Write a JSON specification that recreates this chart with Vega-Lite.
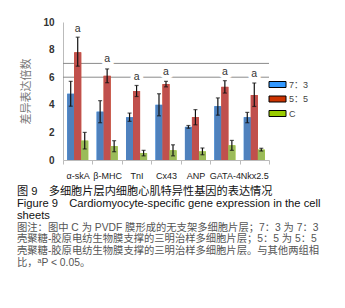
{
  "$schema": "https://vega.github.io/schema/vega-lite/v6.json",
  "autosize": "none",
  "width": 206,
  "height": 138,
  "padding": {"left": 63, "top": 22, "right": 76, "bottom": 148},
  "background": "white",
  "config": {
    "view": {"stroke": null},
    "font": "Liberation Sans, Noto Sans CJK SC",
    "axis": {"labelFont": "Liberation Sans", "titleFont": "Noto Sans CJK SC"},
    "axisY": {"labelOverlap": false}
  },
  "title": {
    "text": ["图 9　多细胞片层内细胞心肌特异性基因的表达情况", "Figure 9　Cardiomyocyte-specific gene expression in the cell", "sheets"],
    "subtitle": ["图注：图中 C 为 PVDF 膜形成的无支架多细胞片层；7：3 为 7：3", "壳聚糖-胶原电纺生物膜支撑的三明治样多细胞片层；5：5 为 5：5", "壳聚糖-胶原电纺生物膜支撑的三明治样多细胞片层。与其他两组相", "比，ᵃP < 0.05。"],
    "orient": "bottom",
    "anchor": "start",
    "frame": "group",
    "dx": -46,
    "offset": 6,
    "font": "Liberation Sans, Noto Sans CJK SC",
    "fontSize": 11.2,
    "fontWeight": "normal",
    "color": "#111",
    "lineHeight": 12,
    "subtitleFont": "Liberation Sans, Noto Sans CJK SC",
    "subtitleFontSize": 10.3,
    "subtitleColor": "#555",
    "subtitleLineHeight": 11.7,
    "subtitlePadding": 1.5
  },
  "data": {
    "values": [
      {"gene": "α-skA", "group": "7：3", "v": 4.8, "lo": 3.9, "hi": 5.7},
      {"gene": "α-skA", "group": "5：5", "v": 7.8, "lo": 6.8, "hi": 8.9},
      {"gene": "α-skA", "group": "C", "v": 1.4, "lo": 0.8, "hi": 2.0},
      {"gene": "β-MHC", "group": "7：3", "v": 3.5, "lo": 2.7, "hi": 4.3},
      {"gene": "β-MHC", "group": "5：5", "v": 6.1, "lo": 5.6, "hi": 6.6},
      {"gene": "β-MHC", "group": "C", "v": 1.0, "lo": 0.6, "hi": 1.4},
      {"gene": "TnI", "group": "7：3", "v": 3.1, "lo": 2.8, "hi": 3.4},
      {"gene": "TnI", "group": "5：5", "v": 5.0, "lo": 4.6, "hi": 5.4},
      {"gene": "TnI", "group": "C", "v": 0.5, "lo": 0.3, "hi": 0.7},
      {"gene": "Cx43", "group": "7：3", "v": 4.0, "lo": 3.2, "hi": 4.8},
      {"gene": "Cx43", "group": "5：5", "v": 5.5, "lo": 5.3, "hi": 5.7},
      {"gene": "Cx43", "group": "C", "v": 0.7, "lo": 0.3, "hi": 1.1},
      {"gene": "ANP", "group": "7：3", "v": 2.4, "lo": 2.3, "hi": 2.5},
      {"gene": "ANP", "group": "5：5", "v": 3.1, "lo": 2.55, "hi": 3.65},
      {"gene": "ANP", "group": "C", "v": 0.62, "lo": 0.38, "hi": 0.87},
      {"gene": "GATA-4", "group": "7：3", "v": 3.9, "lo": 3.25, "hi": 4.5},
      {"gene": "GATA-4", "group": "5：5", "v": 5.3, "lo": 4.85, "hi": 5.75},
      {"gene": "GATA-4", "group": "C", "v": 1.06, "lo": 0.7, "hi": 1.42},
      {"gene": "Nkx2.5", "group": "7：3", "v": 3.1, "lo": 2.7, "hi": 3.45},
      {"gene": "Nkx2.5", "group": "5：5", "v": 4.7, "lo": 3.88, "hi": 5.58},
      {"gene": "Nkx2.5", "group": "C", "v": 0.75, "lo": 0.65, "hi": 0.85}
    ]
  },
  "encoding": {
    "x": {
      "field": "gene", "type": "nominal",
      "scale": {"domain": ["α-skA", "β-MHC", "TnI", "Cx43", "ANP", "GATA-4", "Nkx2.5"], "paddingInner": 0, "paddingOuter": 0},
      "axis": {"title": null, "labelAngle": 0, "labelFontSize": 9, "labelColor": "#222", "labelPadding": 7, "tickBand": "extent", "tickSize": 4, "tickColor": "#bbb", "domainColor": "#bbb", "labelFontWeight": "normal", "labelOverlap": false}
    },
    "xOffset": {
      "field": "group", "type": "nominal",
      "scale": {"domain": ["7：3", "5：5", "C"], "paddingInner": 0, "paddingOuter": 0.6}
    }
  },
  "layer": [
    {
      "data": {"values": [{"g": 6}, {"g": 7}]},
      "mark": {"type": "rule", "color": "#8a8a8a", "strokeWidth": 1},
      "encoding": {"x": null, "xOffset": null,
        "y": {"field": "g", "type": "quantitative", "scale": {"domain": [0, 10], "nice": false},
          "axis": {"title": "差异表达倍数", "titleColor": "#777", "titleFontSize": 11, "titleFontWeight": "normal", "titlePadding": 11, "values": [0,1,2,3,4,5,6,7,8,9,10], "tickCount": 10, "labelOverlap": false, "labelBound": false, "labelFlush": false, "grid": false, "ticks": false, "labelPadding": 9, "labelFontSize": 10, "labelFontWeight": "bold", "labelColor": "#333", "domainColor": "#bbb"}}}
    },
    {
      "mark": {"type": "bar"},
      "encoding": {
        "y": {"field": "v", "type": "quantitative"},
        "color": {
          "field": "group", "type": "nominal",
          "scale": {"domain": ["7：3", "5：5", "C"], "range": ["#3399ff", "#cc3300", "#99cc00"]},
          "legend": {
            "title": null, "orient": "none", "legendX": 209, "legendY": 57,
            "symbolType": "M-1.7,-0.6H1.7V0.6H-1.7Z", "symbolSize": 100,
            "labelFontSize": 9, "labelColor": "#444", "labelOffset": 6, "rowPadding": 3.5, "padding": 0,
            "symbolStrokeColor": "#000", "symbolStrokeWidth": 1,
            "encode": {"symbols": {"update": {"stroke": {"value": "#000"}, "strokeWidth": {"value": 1}}}}
          }
        }
      }
    },
    {
      "mark": {"type": "bar"},
      "encoding": {
        "y": {"field": "v", "type": "quantitative"},
        "fill": {
          "field": "group", "type": "nominal",
          "scale": {"domain": ["7：3", "5：5", "C"], "range": ["#4f81bd", "#c0504d", "#9bbb59"]},
          "legend": null
        }
      }
    },
    {
      "mark": {"type": "rule", "color": "#111", "strokeWidth": 1.2},
      "encoding": {"y": {"field": "lo", "type": "quantitative"}, "y2": {"field": "hi"}}
    },
    {
      "mark": {"type": "tick", "color": "#111", "size": 4, "thickness": 1.2, "orient": "horizontal"},
      "encoding": {"y": {"field": "hi", "type": "quantitative"}}
    },
    {
      "mark": {"type": "tick", "color": "#111", "size": 4, "thickness": 1.2, "orient": "horizontal"},
      "encoding": {"y": {"field": "lo", "type": "quantitative"}}
    },
    {
      "data": {"values": [
        {"gene": "α-skA", "group": "5：5", "p": 9.5},
        {"gene": "β-MHC", "group": "5：5", "p": 7.3},
        {"gene": "TnI", "group": "5：5", "p": 6.0},
        {"gene": "Cx43", "group": "5：5", "p": 6.35},
        {"gene": "GATA-4", "group": "5：5", "p": 6.4},
        {"gene": "Nkx2.5", "group": "5：5", "p": 6.2}
      ]},
      "mark": {"type": "text", "fontSize": 10.5, "font": "Liberation Sans", "color": "white", "stroke": "white", "strokeWidth": 7, "baseline": "middle", "text": "a"},
      "encoding": {"y": {"field": "p", "type": "quantitative"}}
    },
    {
      "data": {"values": [
        {"gene": "α-skA", "group": "5：5", "p": 9.5},
        {"gene": "β-MHC", "group": "5：5", "p": 7.3},
        {"gene": "TnI", "group": "5：5", "p": 6.0},
        {"gene": "Cx43", "group": "5：5", "p": 6.35},
        {"gene": "GATA-4", "group": "5：5", "p": 6.4},
        {"gene": "Nkx2.5", "group": "5：5", "p": 6.2}
      ]},
      "mark": {"type": "text", "fontSize": 10.5, "font": "Liberation Sans", "color": "#333", "baseline": "middle", "text": "a"},
      "encoding": {"y": {"field": "p", "type": "quantitative"}}
    }
  ]
}
